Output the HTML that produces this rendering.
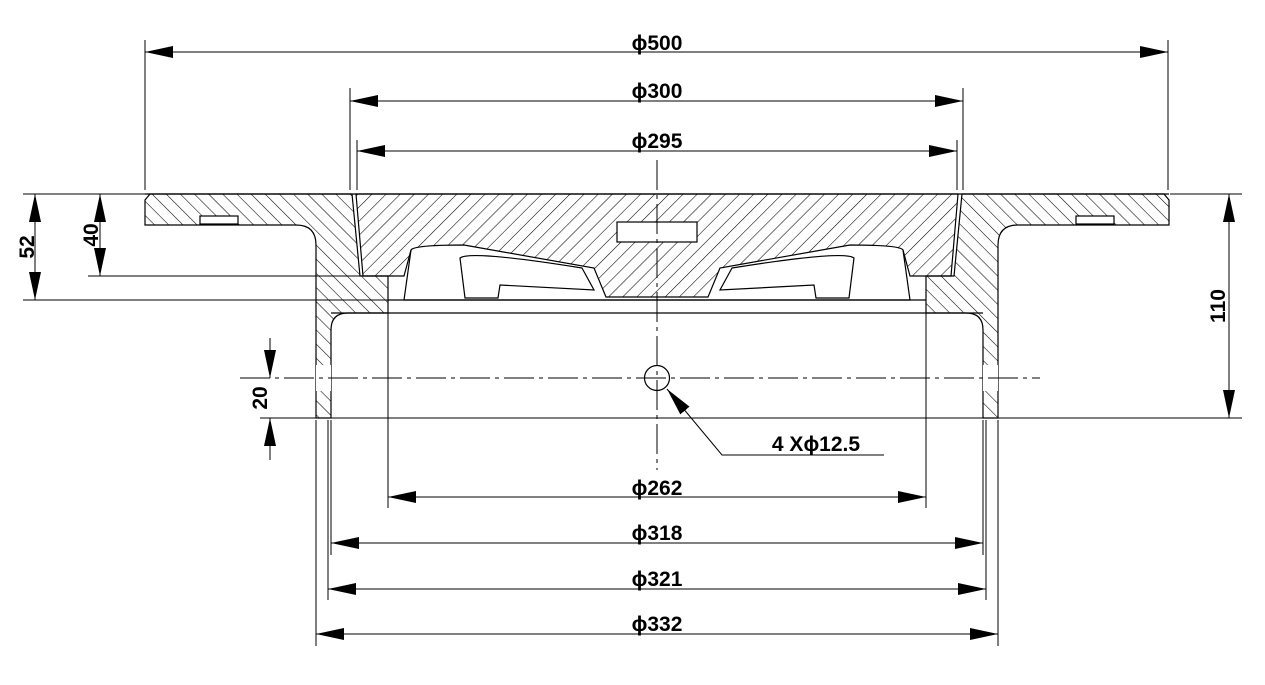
<!DOCTYPE html>
<html><head><meta charset="utf-8"><style>
html,body{margin:0;padding:0;background:#fff;}
svg{display:block;}
text{font-family:"Liberation Sans",Arial,sans-serif;font-weight:bold;font-size:21px;fill:#000;}
</style></head><body>
<svg width="1265" height="685" viewBox="0 0 1265 685" xmlns="http://www.w3.org/2000/svg">
<defs>
<pattern id="hb" patternUnits="userSpaceOnUse" width="10" height="10" patternTransform="rotate(-45)">
<line x1="0" y1="0" x2="0" y2="10" stroke="#000" stroke-width="1.1"/></pattern>
<pattern id="hf" patternUnits="userSpaceOnUse" width="10" height="10" patternTransform="rotate(45)">
<line x1="0" y1="0" x2="0" y2="10" stroke="#000" stroke-width="1.1"/></pattern>
<marker id="a" markerWidth="28" markerHeight="12" refX="28" refY="6" orient="auto" markerUnits="userSpaceOnUse">
<path d="M0,0 L28,6 L0,12 Z" fill="#000"/></marker>
<marker id="s" markerWidth="28" markerHeight="12" refX="0" refY="6" orient="auto" markerUnits="userSpaceOnUse">
<path d="M28,0 L0,6 L28,12 Z" fill="#000"/></marker>
</defs>
<g stroke="#000" stroke-width="1.2" fill="none">
<path d="M145,200 L150,194 L352,194 L360,276 L388,276 L388,313 L348,313 Q331,313 331,330 L331,418 L316,418 L316,245 Q316,225 296,225 L145,225 Z" fill="url(#hb)"/>
<path d="M1169,200 L1164,194 L962,194 L954,276 L926,276 L926,313 L966,313 Q983,313 983,330 L983,418 L998,418 L998,245 Q998,225 1018,225 L1169,225 Z" fill="url(#hb)"/>
<path d="M356,194 L958,194 L951,276 L910,276 L903,250 Q900,245 850,245 L720,268 L708,297 L606,297 L594,268 L464,245 Q414,245 411,250 L404,276 L363,276 Z" fill="url(#hf)"/>
<rect x="617" y="222" width="80" height="20" fill="#fff"/>
<path d="M411,250 L404,300 L910,300 L903,250" />
<path d="M460,258 L465,298 L498,298 L500,285 L594,290 L582,268 Q470,250 460,258 Z" fill="#fff"/>
<path d="M854,258 L849,298 L816,298 L814,285 L720,290 L732,268 Q844,250 854,258 Z" fill="#fff"/>
<line x1="388" y1="300" x2="926" y2="300"/>
<line x1="331" y1="313" x2="983" y2="313"/>
<line x1="145" y1="194" x2="1169" y2="194"/>
<rect x="200" y="216" width="38" height="8" fill="#fff"/>
<rect x="1076" y="216" width="38" height="8" fill="#fff"/>
<rect x="316" y="365" width="15" height="26" fill="#fff" stroke="none"/>
<rect x="983" y="365" width="15" height="26" fill="#fff" stroke="none"/>
<circle cx="657" cy="378" r="12.5"/>
</g>
<g stroke="#000" stroke-width="1" fill="none">
<line x1="657" y1="160" x2="657" y2="470" stroke-dasharray="30,5,4,5"/>
<line x1="240" y1="378" x2="1040" y2="378" stroke-dasharray="30,5,4,5"/>
<line x1="145" y1="40" x2="145" y2="190"/><line x1="1168" y1="40" x2="1168" y2="190"/>
<line x1="350" y1="88" x2="350" y2="190"/><line x1="963" y1="88" x2="963" y2="190"/>
<line x1="357" y1="140" x2="357" y2="190"/><line x1="957" y1="140" x2="957" y2="190"/>
<line x1="388" y1="300" x2="388" y2="508"/><line x1="926" y1="300" x2="926" y2="508"/>
<line x1="331" y1="420" x2="331" y2="555"/><line x1="983" y1="420" x2="983" y2="555"/>
<line x1="328" y1="420" x2="328" y2="600"/><line x1="986" y1="420" x2="986" y2="600"/>
<line x1="316" y1="420" x2="316" y2="646"/><line x1="998" y1="420" x2="998" y2="646"/>
<line x1="23" y1="194" x2="145" y2="194"/><line x1="1170" y1="194" x2="1242" y2="194"/>
<line x1="23" y1="300" x2="388" y2="300"/>
<line x1="88" y1="276" x2="360" y2="276"/>
<line x1="260" y1="418" x2="1242" y2="418"/>
<line x1="145" y1="52" x2="1168" y2="52" marker-start="url(#s)" marker-end="url(#a)"/>
<line x1="350" y1="101" x2="963" y2="101" marker-start="url(#s)" marker-end="url(#a)"/>
<line x1="357" y1="151" x2="957" y2="151" marker-start="url(#s)" marker-end="url(#a)"/>
<line x1="388" y1="497" x2="926" y2="497" marker-start="url(#s)" marker-end="url(#a)"/>
<line x1="331" y1="543" x2="983" y2="543" marker-start="url(#s)" marker-end="url(#a)"/>
<line x1="328" y1="589" x2="986" y2="589" marker-start="url(#s)" marker-end="url(#a)"/>
<line x1="316" y1="634" x2="998" y2="634" marker-start="url(#s)" marker-end="url(#a)"/>
<line x1="35" y1="194" x2="35" y2="300" marker-start="url(#s)" marker-end="url(#a)"/>
<line x1="100" y1="194" x2="100" y2="276" marker-start="url(#s)" marker-end="url(#a)"/>
<line x1="1229" y1="194" x2="1229" y2="418" marker-start="url(#s)" marker-end="url(#a)"/>
<line x1="270" y1="338" x2="270" y2="378" marker-end="url(#a)"/>
<line x1="270" y1="460" x2="270" y2="418" marker-end="url(#a)"/>
<path d="M884,455 L722,455 L667,389" marker-end="url(#a)"/>
</g>
<g text-anchor="middle">
<text x="657" y="50">ϕ500</text>
<text x="657" y="98">ϕ300</text>
<text x="657" y="148">ϕ295</text>
<text x="657" y="495">ϕ262</text>
<text x="657" y="540">ϕ318</text>
<text x="657" y="586">ϕ321</text>
<text x="657" y="631">ϕ332</text>
<text x="816" y="451">4 Xϕ12.5</text>
<text transform="translate(34,247) rotate(-90)">52</text>
<text transform="translate(98,235) rotate(-90)">40</text>
<text transform="translate(1225,306) rotate(-90)">110</text>
<text transform="translate(267,398) rotate(-90)">20</text>
</g>
</svg>
</body></html>
